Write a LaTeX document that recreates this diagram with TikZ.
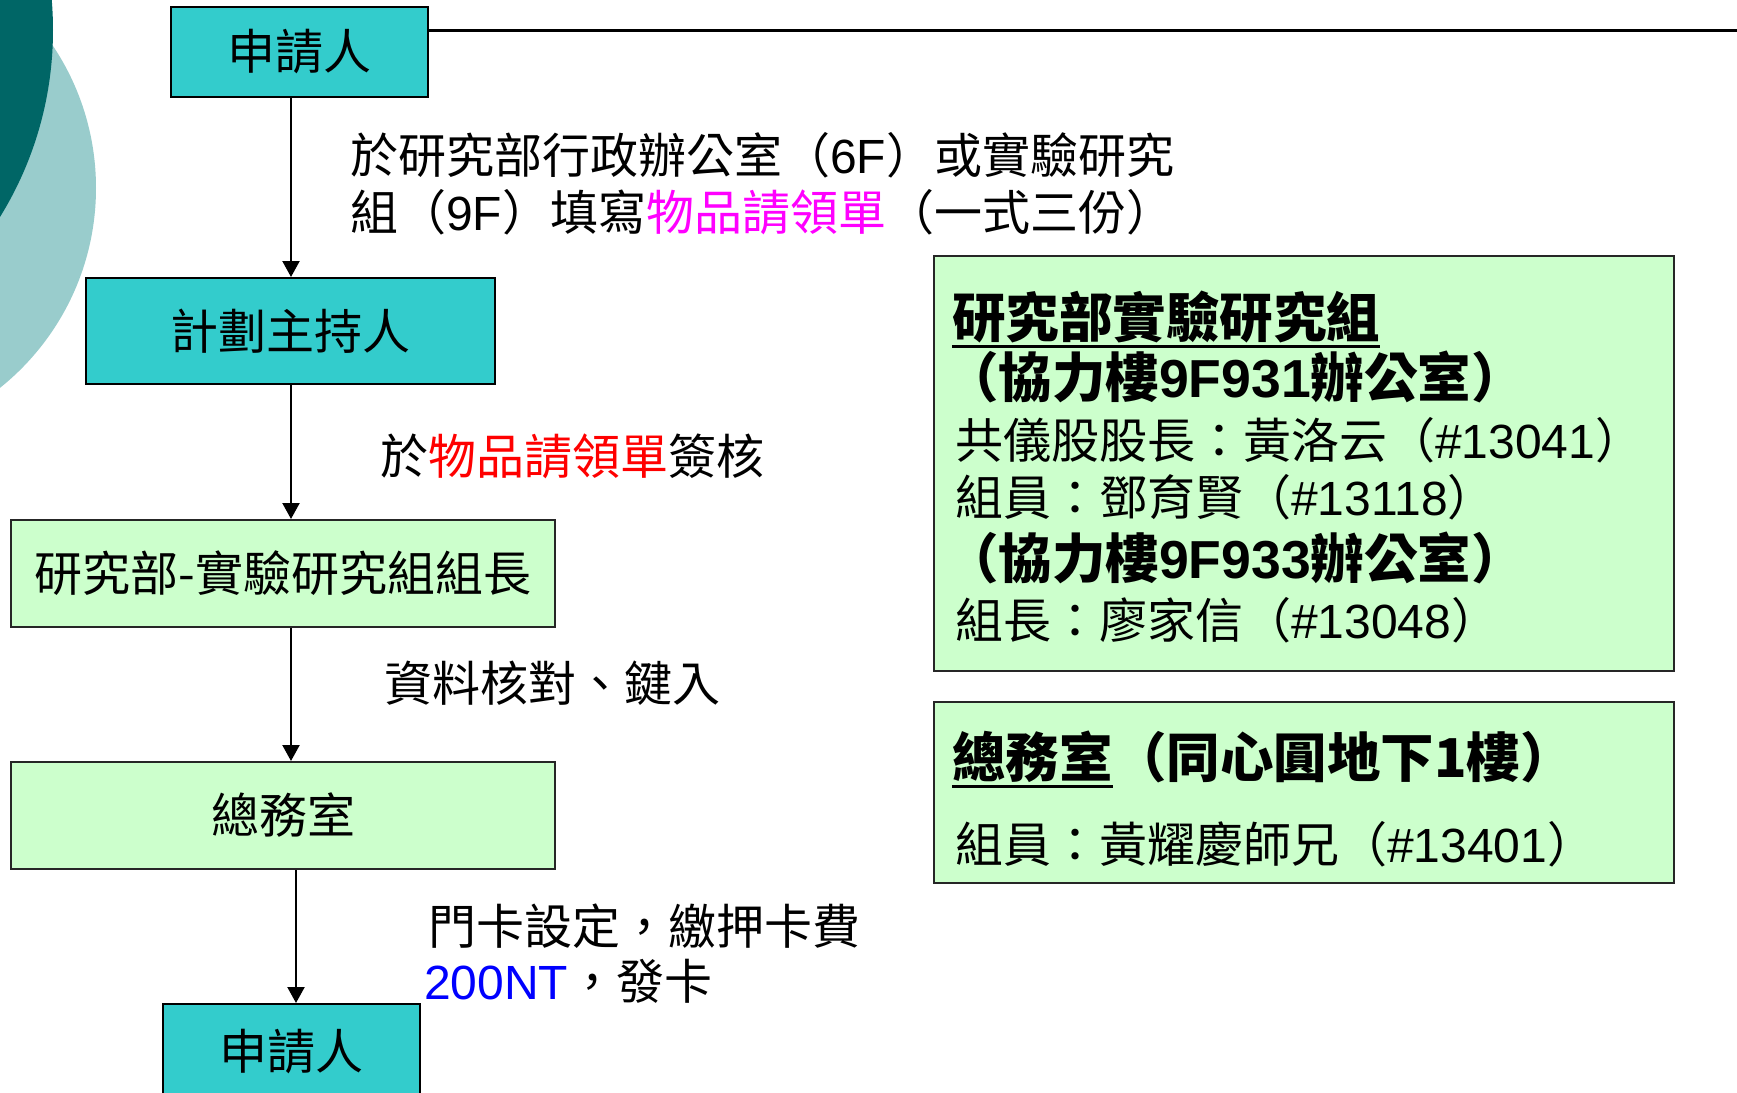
\documentclass[tikz,border=0pt]{standalone}
\usepackage{fontspec}
\usetikzlibrary{arrows.meta}
\newfontfamily\cjk{Noto Sans CJK TC}
\newfontfamily\arial{Liberation Sans}
\newcommand\lat[1]{{\arial #1}}
\definecolor{cy}{HTML}{33CCCC}
\definecolor{gr}{HTML}{CCFFCC}
\definecolor{mag}{HTML}{FF00FF}
\definecolor{dteal}{HTML}{006666}
\definecolor{lteal}{HTML}{99CCCC}
\tikzset{
  every node/.style={font=\cjk\fontsize{48}{56}\selectfont, inner sep=0pt},
  flowcyan/.style={draw=black, line width=2pt, fill=cy},
  flowgreen/.style={draw=black!85, line width=2pt, fill=gr},
  infobox/.style={draw=black!85, line width=2pt, fill=gr, minimum width=740pt},
  lbl/.style={anchor=west},
  infohead/.style={anchor=west, font=\cjk\bfseries\fontsize{53.5}{60}\selectfont},
  arr/.style={line width=2.2pt, -{Triangle[width=17pt,length=16pt]}},
  uline/.style={line width=3pt}
}
\begin{document}
\begin{tikzpicture}[x=1pt,y=-1pt]
\useasboundingbox (0,0) rectangle (1737,1092);
\clip (0,0) rectangle (1737,1092);
\fill[white] (0,0) rectangle (1737,1092);
% decorative circles
\fill[lteal] (-160,188) circle[radius=256pt];
\fill[dteal] (-303,30) circle[radius=356pt];

% flow boxes
\node[flowcyan, minimum width=257pt, minimum height=90pt] (b1) at (299.5,52) {申請人};
\node[flowcyan, minimum width=409pt, minimum height=106pt] (b2) at (290.5,331) {計劃主持人};
\node[flowgreen, minimum width=544pt, minimum height=107pt] (b3) at (283,573.5) {研究部-實驗研究組組長};
\node[flowgreen, minimum width=544pt, minimum height=107pt] (b4) at (283,815.5) {總務室};
\node[flowcyan, minimum width=257pt, minimum height=96pt] (b5) at (291.5,1052) {申請人};

% connectors
\coordinate (col) at (291,0);
\coordinate (col2) at (296,0);
\coordinate (lineEnd) at (1737,30);
\draw[line width=3pt] (b1.east |- lineEnd) -- (lineEnd);
\draw[arr] (b1.south -| col) -- (b2.north -| col);
\draw[arr] (b2.south -| col) -- (b3.north -| col);
\draw[arr] (b3.south -| col) -- (b4.north -| col);
\draw[arr] (b4.south -| col2) -- (b5.north -| col2);

% connector labels
\node[lbl] (l1a) at (350,155) {於研究部行政辦公室（\lat{6F}）或實驗研究};
\node[lbl] (l1b) at (350,212) {組（\lat{9F}）填寫\textcolor{mag}{物品請領單}（一式三份）};
\node[lbl] (l2) at (380,456) {於\textcolor{red}{物品請領單}簽核};
\node[lbl] (l3) at (384,683) {資料核對、鍵入};
\node[lbl] (l4a) at (428,926) {門卡設定，繳押卡費};
\node[lbl] (l4b) at (424,981) {\textcolor{blue}{\lat{200NT}}，發卡};

% info box 1
\node[infobox, minimum height=415pt] (rb1) at (1304,463.5) {};
\node[infohead] (r1) at (952,317) {研究部實驗研究組};
\draw[uline] ([yshift=-3pt]r1.south west) -- ([yshift=-3pt]r1.south east);
\node[infohead] (r2) at (945,377) {（協力樓\lat{9F931}辦公室）};
\node[lbl] (r3) at (955,440) {共儀股股長：黃洛云（\lat{\#13041}）};
\node[lbl] (r4) at (955,497) {組員：鄧育賢（\lat{\#13118}）};
\node[infohead] (r5) at (945,558) {（協力樓\lat{9F933}辦公室）};
\node[lbl] (r6) at (955,620) {組長：廖家信（\lat{\#13048}）};

% info box 2
\node[infobox, minimum height=181pt] (rb2) at (1304,792.5) {};
\node[infohead] (s1a) at (952,757) {總務室};
\draw[uline] ([yshift=-3pt]s1a.south west) -- ([yshift=-3pt]s1a.south east);
\node[infohead, anchor=base west] (s1b) at (s1a.base east) {（同心圓地下1樓）};
\node[lbl] (s2) at (955,844) {組員：黃耀慶師兄（\lat{\#13401}）};
\end{tikzpicture}
\end{document}
